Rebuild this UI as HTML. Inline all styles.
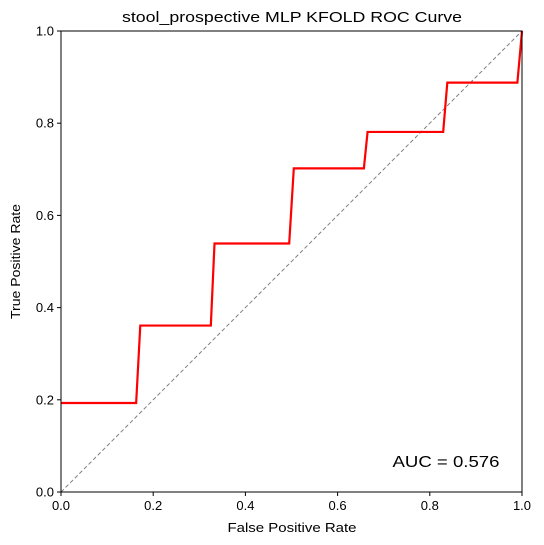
<!DOCTYPE html>
<html><head><meta charset="utf-8"><style>
body{margin:0;background:#fff;}
svg{display:block;font-family:"Liberation Sans","DejaVu Sans",sans-serif;}
</style></head><body>
<svg id="chart" width="544" height="545" viewBox="0 0 544 545">
<text x="292" y="22" text-anchor="middle" font-size="15" textLength="340" lengthAdjust="spacingAndGlyphs">stool_prospective MLP KFOLD ROC Curve</text>
<g id="xticks"></g>
<g id="yticks"></g>
<line x1="61" y1="492" x2="522" y2="31" stroke="#808080" stroke-width="1" stroke-dasharray="4,2.5"/>
<polyline id="roc" fill="none" stroke="#ff0000" stroke-width="2.2"/>
<rect x="61" y="31" width="461" height="461" fill="none" stroke="#000" stroke-width="1"/>
<text x="446" y="467" text-anchor="middle" font-size="16" textLength="107" lengthAdjust="spacingAndGlyphs">AUC = 0.576</text>
<text x="292" y="532" text-anchor="middle" font-size="13" textLength="129" lengthAdjust="spacingAndGlyphs">False Positive Rate</text>
<text x="20" y="261.5" text-anchor="middle" font-size="13" textLength="115" lengthAdjust="spacingAndGlyphs" transform="rotate(-90 20 261.5)">True Positive Rate</text>
</svg>
<script>
const fpr = [0, 0.163, 0.172, 0.325, 0.333, 0.495, 0.505, 0.657, 0.665, 0.829, 0.838, 0.99, 1.0];
const tpr = [0.193, 0.193, 0.361, 0.361, 0.539, 0.539, 0.702, 0.702, 0.781, 0.781, 0.888, 0.888, 1.0];
const ticks = [0, 0.2, 0.4, 0.6, 0.8, 1.0];
const tickLabels = ["0.0", "0.2", "0.4", "0.6", "0.8", "1.0"];
const X0 = 61, X1 = 522, Y0 = 492, Y1 = 31;
const sx = v => X0 + v * (X1 - X0);
const sy = v => Y0 - v * (Y0 - Y1);
const NS = "http://www.w3.org/2000/svg";
document.getElementById('roc').setAttribute('points', fpr.map((f, i) => sx(f) + ',' + sy(tpr[i])).join(' '));
const gx = document.getElementById('xticks'), gy = document.getElementById('yticks');
ticks.forEach((t, i) => {
  let l = document.createElementNS(NS, 'line');
  l.setAttribute('x1', sx(t)); l.setAttribute('x2', sx(t)); l.setAttribute('y1', Y0); l.setAttribute('y2', Y0 + 4);
  l.setAttribute('stroke', '#000');
  
  
  gx.appendChild(l);
  let tx = document.createElementNS(NS, 'text');
  tx.setAttribute('x', sx(t)); tx.setAttribute('y', Y0 + 18); tx.setAttribute('text-anchor', 'middle'); tx.setAttribute('font-size', '13');
  tx.textContent = tickLabels[i];
  
  
  gx.appendChild(tx);
  let m = document.createElementNS(NS, 'line');
  m.setAttribute('x1', X0 - 4); m.setAttribute('x2', X0); m.setAttribute('y1', sy(t)); m.setAttribute('y2', sy(t));
  m.setAttribute('stroke', '#000');
  
  
  gy.appendChild(m);
  let ty = document.createElementNS(NS, 'text');
  ty.setAttribute('x', X0 - 7); ty.setAttribute('y', sy(t) + 4.5); ty.setAttribute('text-anchor', 'end'); ty.setAttribute('font-size', '13');
  ty.textContent = tickLabels[i];
  
  
  gy.appendChild(ty);
});
</script>
</body></html>
